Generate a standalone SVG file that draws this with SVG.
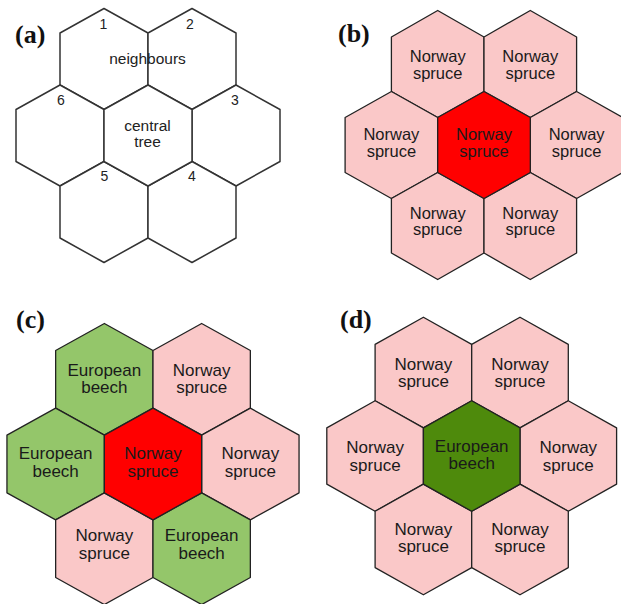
<svg xmlns="http://www.w3.org/2000/svg" width="621" height="604" viewBox="0 0 621 604">
<style>
.lbl{font-family:"Liberation Serif","Times New Roman",serif;font-weight:bold;font-size:26px;fill:#111}
.ha{fill:#fff;stroke:#333;stroke-width:1.5;stroke-linejoin:round}
.hx{stroke:#222;stroke-width:1.3;stroke-linejoin:round}
.pink{fill:#fac8c8}
.red{fill:#ff0000}
.lg{fill:#94c66a}
.dg{fill:#4e8a0c}
.ta{font-family:"Liberation Sans",Arial,sans-serif;font-size:15.5px;fill:#222;text-anchor:middle}
.tn{font-family:"Liberation Sans",Arial,sans-serif;font-size:14px;fill:#222;text-anchor:middle}
.tb{font-family:"Liberation Sans",Arial,sans-serif;font-size:16.5px;fill:#1a1a1a;text-anchor:middle}
.tc{font-family:"Liberation Sans",Arial,sans-serif;font-size:17px;fill:#1a1a1a;text-anchor:middle}
</style>
<rect width="621" height="604" fill="#fff"/>

<!-- Panel (a) -->
<g id="panel-a">
  <text class="lbl" x="15" y="43">(a)</text>
  <g id="a-n1"><polygon class="ha" points="104,8.5 148,33 148,85 104,109.5 60,85 60,33"/><text class="tn" x="103.5" y="28.5">1</text></g>
  <g id="a-n2"><polygon class="ha" points="192,8.5 236,33 236,85 192,109.5 148,85 148,33"/><text class="tn" x="190" y="28.5">2</text></g>
  <g id="a-n6"><polygon class="ha" points="60,85 104,109.5 104,161.5 60,186 16,161.5 16,109.5"/><text class="tn" x="61" y="104.5">6</text></g>
  <g id="a-n3"><polygon class="ha" points="236,85 280,109.5 280,161.5 236,186 192,161.5 192,109.5"/><text class="tn" x="235" y="104.5">3</text></g>
  <g id="a-n5"><polygon class="ha" points="104,161.5 148,186 148,238 104,262.5 60,238 60,186"/><text class="tn" x="104.5" y="181">5</text></g>
  <g id="a-n4"><polygon class="ha" points="192,161.5 236,186 236,238 192,262.5 148,238 148,186"/><text class="tn" x="192" y="181">4</text></g>
  <g id="a-center"><polygon class="ha" points="148,85 192,109.5 192,161.5 148,186 104,161.5 104,109.5"/><text class="ta" x="147.5" y="131">central</text><text class="ta" x="147.5" y="146.5">tree</text></g>
  <text class="ta" x="147.5" y="63.5">neighbours</text>
</g>

<!-- Panel (b) -->
<g id="panel-b">
  <text class="lbl" x="338" y="42">(b)</text>
  <g id="b-n1"><polygon class="hx pink" points="437.7,10.5 484,37 484,91.5 437.7,117.5 391.4,91.5 391.4,37"/><text class="tb" x="437.7" y="62">Norway</text><text class="tb" x="437.7" y="78.5">spruce</text></g>
  <g id="b-n2"><polygon class="hx pink" points="530.3,10.5 576.6,37 576.6,91.5 530.3,117.5 484,91.5 484,37"/><text class="tb" x="530.3" y="62">Norway</text><text class="tb" x="530.3" y="78.5">spruce</text></g>
  <g id="b-n6"><polygon class="hx pink" points="391.4,91.5 437.7,117.5 437.7,172.5 391.4,198.5 345.1,172.5 345.1,117.5"/><text class="tb" x="391.4" y="140">Norway</text><text class="tb" x="391.4" y="156.7">spruce</text></g>
  <g id="b-n3"><polygon class="hx pink" points="576.6,91.5 622.9,117.5 622.9,172.5 576.6,198.5 530.3,172.5 530.3,117.5"/><text class="tb" x="576.6" y="140">Norway</text><text class="tb" x="576.6" y="156.7">spruce</text></g>
  <g id="b-n5"><polygon class="hx pink" points="437.7,172.5 484,198.5 484,253 437.7,279.5 391.4,253 391.4,198.5"/><text class="tb" x="437.7" y="218.5">Norway</text><text class="tb" x="437.7" y="235.2">spruce</text></g>
  <g id="b-n4"><polygon class="hx pink" points="530.3,172.5 576.6,198.5 576.6,253 530.3,279.5 484,253 484,198.5"/><text class="tb" x="530.3" y="218.5">Norway</text><text class="tb" x="530.3" y="235.2">spruce</text></g>
  <g id="b-center"><polygon class="hx red" points="484,91.5 530.3,117.5 530.3,172.5 484,198.5 437.7,172.5 437.7,117.5"/><text class="tb" x="484" y="140">Norway</text><text class="tb" x="484" y="156.7">spruce</text></g>
</g>

<!-- Panel (c) -->
<g id="panel-c">
  <text class="lbl" x="16" y="328">(c)</text>
  <g id="c-n1"><polygon class="hx lg" points="104.35,323.45 153,350.45 153,408.15 104.35,435.15 55.65,408.15 55.65,350.45"/><text class="tc" x="104.35" y="376">European</text><text class="tc" x="104.35" y="393.3">beech</text></g>
  <g id="c-n2"><polygon class="hx pink" points="201.65,323.45 250.35,350.45 250.35,408.15 201.65,435.15 153,408.15 153,350.45"/><text class="tc" x="201.65" y="376">Norway</text><text class="tc" x="201.65" y="393.3">spruce</text></g>
  <g id="c-n6"><polygon class="hx lg" points="55.65,408.15 104.35,435.15 104.35,492.85 55.65,519.85 6.95,492.85 6.95,435.15"/><text class="tc" x="55.65" y="459.3">European</text><text class="tc" x="55.65" y="476.7">beech</text></g>
  <g id="c-n3"><polygon class="hx pink" points="250.35,408.15 299.05,435.15 299.05,492.85 250.35,519.85 201.65,492.85 201.65,435.15"/><text class="tc" x="250.35" y="459.3">Norway</text><text class="tc" x="250.35" y="476.7">spruce</text></g>
  <g id="c-n5"><polygon class="hx pink" points="104.35,492.85 153,519.85 153,577.55 104.35,604.55 55.65,577.55 55.65,519.85"/><text class="tc" x="104.35" y="541.2">Norway</text><text class="tc" x="104.35" y="558.6">spruce</text></g>
  <g id="c-n4"><polygon class="hx lg" points="201.65,492.85 250.35,519.85 250.35,577.55 201.65,604.55 153,577.55 153,519.85"/><text class="tc" x="201.65" y="541.2">European</text><text class="tc" x="201.65" y="558.6">beech</text></g>
  <g id="c-center"><polygon class="hx red" points="153,408.15 201.65,435.15 201.65,492.85 153,519.85 104.35,492.85 104.35,435.15"/><text class="tc" x="153" y="459.3">Norway</text><text class="tc" x="153" y="476.7">spruce</text></g>
</g>

<!-- Panel (d) -->
<g id="panel-d">
  <text class="lbl" x="340" y="328">(d)</text>
  <g id="d-n1"><polygon class="hx pink" points="423.4,317.25 471.7,344.4 471.7,400.7 423.4,427.85 375.1,400.7 375.1,344.4"/><text class="tc" x="423.4" y="370">Norway</text><text class="tc" x="423.4" y="387.3">spruce</text></g>
  <g id="d-n2"><polygon class="hx pink" points="520,317.25 568.3,344.4 568.3,400.7 520,427.85 471.7,400.7 471.7,344.4"/><text class="tc" x="520" y="370">Norway</text><text class="tc" x="520" y="387.3">spruce</text></g>
  <g id="d-n6"><polygon class="hx pink" points="375.1,400.7 423.4,427.85 423.4,484.15 375.1,511.3 326.8,484.15 326.8,427.85"/><text class="tc" x="375.1" y="453.3">Norway</text><text class="tc" x="375.1" y="470.7">spruce</text></g>
  <g id="d-n3"><polygon class="hx pink" points="568.3,400.7 616.6,427.85 616.6,484.15 568.3,511.3 520,484.15 520,427.85"/><text class="tc" x="568.3" y="453.3">Norway</text><text class="tc" x="568.3" y="470.7">spruce</text></g>
  <g id="d-n5"><polygon class="hx pink" points="423.4,484.15 471.7,511.3 471.7,567.6 423.4,594.75 375.1,567.6 375.1,511.3"/><text class="tc" x="423.4" y="535">Norway</text><text class="tc" x="423.4" y="552.3">spruce</text></g>
  <g id="d-n4"><polygon class="hx pink" points="520,484.15 568.3,511.3 568.3,567.6 520,594.75 471.7,567.6 471.7,511.3"/><text class="tc" x="520" y="535">Norway</text><text class="tc" x="520" y="552.3">spruce</text></g>
  <g id="d-center"><polygon class="hx dg" points="471.7,400.7 520,427.85 520,484.15 471.7,511.3 423.4,484.15 423.4,427.85"/><text class="tc" x="471.7" y="451.7">European</text><text class="tc" x="471.7" y="469.3">beech</text></g>
</g>
</svg>
